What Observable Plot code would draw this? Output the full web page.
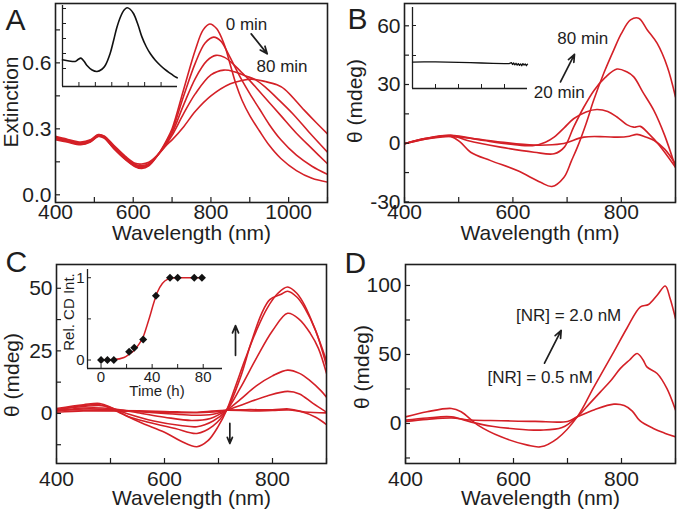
<!DOCTYPE html>
<html><head><meta charset="utf-8">
<script src="https://cdn.jsdelivr.net/npm/d3@7"></script>
<script src="https://cdn.jsdelivr.net/npm/@observablehq/plot@0.6"></script>
<style>
body{margin:0;background:#fff;}
#fig{position:relative;width:679px;height:512px;overflow:hidden;background:#fff;font-family:"Liberation Sans",Arial,sans-serif;color:#1e1e1e;}
.vt{position:absolute;white-space:nowrap;line-height:1;transform:translate(-50%,-50%) rotate(-90deg);}
</style></head><body><div id="fig"></div>
<script>
// ---------- Panel A : extinction spectra (0,20,40,60,80 min) ----------
const a00 = [[400,0.25],[430,0.24],[465,0.228],[490,0.24],[510,0.265],[525,0.258],[550,0.21],[580,0.16],[605,0.128],[622,0.12],[640,0.132],[665,0.185],[685,0.245],[700,0.30],[730,0.48],[760,0.66],[780,0.75],[797,0.777],[815,0.755],[835,0.68],[850,0.59],[865,0.50],[880,0.43],[900,0.36],[925,0.29],[950,0.225],[980,0.165],[1020,0.11],[1060,0.075],[1100,0.058]];
const a20 = [[400,0.255],[430,0.243],[465,0.23],[490,0.242],[510,0.267],[525,0.26],[550,0.212],[580,0.162],[605,0.13],[622,0.124],[640,0.135],[665,0.185],[685,0.24],[700,0.29],[730,0.45],[760,0.60],[785,0.69],[807,0.717],[825,0.70],[845,0.64],[865,0.57],[880,0.52],[900,0.46],[925,0.39],[950,0.32],[980,0.25],[1020,0.18],[1060,0.13],[1100,0.093]];
const a40 = [[400,0.26],[430,0.246],[465,0.232],[490,0.245],[510,0.27],[525,0.262],[550,0.215],[580,0.165],[605,0.133],[622,0.127],[640,0.138],[665,0.185],[685,0.235],[700,0.28],[730,0.41],[760,0.53],[790,0.61],[813,0.634],[835,0.625],[860,0.59],[880,0.555],[897,0.525],[920,0.48],[950,0.42],[980,0.36],[1020,0.28],[1060,0.21],[1100,0.141]];
const a60 = [[400,0.263],[430,0.25],[465,0.236],[490,0.248],[510,0.272],[525,0.265],[550,0.22],[580,0.17],[605,0.138],[622,0.133],[640,0.142],[665,0.185],[685,0.23],[700,0.27],[730,0.37],[760,0.46],[800,0.545],[833,0.567],[860,0.56],[890,0.54],[913,0.525],[940,0.49],[970,0.44],[1010,0.37],[1055,0.28],[1100,0.194]];
const a80 = [[400,0.266],[430,0.253],[465,0.24],[490,0.25],[510,0.274],[525,0.268],[550,0.225],[580,0.175],[605,0.143],[622,0.14],[640,0.148],[665,0.185],[685,0.225],[700,0.25],[730,0.31],[760,0.38],[800,0.45],[850,0.505],[880,0.52],[905,0.526],[940,0.515],[970,0.50],[990,0.48],[1040,0.385],[1070,0.33],[1100,0.277]];
const aInset = [[400,1.58],[440,1.5],[477,1.47],[495,1.6],[512,1.69],[530,1.5],[549,1.2],[580,0.9],[610,0.8],[640,0.95],[660,1.2],[690,2.0],[711,2.87],[730,3.7],[752,4.42],[775,4.9],[793,5.05],[812,4.95],[833,4.65],[860,3.9],[884,3.09],[910,2.45],[935,1.98],[965,1.55],[996,1.2],[1025,0.92],[1054,0.69],[1075,0.53],[1098,0.38]];

// ---------- Panel B : CD spectra (20,40,60,80 min) ----------
const b20 = [[400,-0.3],[440,2.2],[485,3.5],[530,2.2],[577,0.6],[639,-1.0],[690,-0.3],[731,3.1],[770,3.3],[793,3.1],[815,3.6],[829,4.5],[845,3.2],[860,1.5],[880,-3],[900,-10.6]];
const b40 = [[400,-0.3],[440,2.2],[485,4.0],[546,1.4],[600,-0.6],[639,-1.2],[660,0.5],[676,3.1],[695,8],[712,12.5],[735,16],[755,17.2],[775,16.2],[792,13.4],[810,9.5],[823,8.2],[835,8.6],[850,5],[870,-1],[900,-12.3]];
const b60 = [[400,-0.3],[440,2.5],[485,4.0],[516,1.4],[577,-2.0],[639,-4.6],[676,-5.4],[695,-2],[712,8.2],[730,18],[750,27.1],[770,33.5],[792,37.9],[810,36.5],[823,33.9],[840,26],[860,16.8],[880,4],[900,-12.3]];
const b80 = [[400,-0.3],[440,2.5],[485,3.5],[503,0.5],[522,-4.6],[559,-8.9],[608,-14],[651,-20],[672,-22.1],[694,-17.5],[708,-9],[719,-2],[735,10],[749,21.9],[768,36],[786,47.6],[800,56],[817,63],[832,63.9],[848,57.9],[866,51.1],[885,39],[900,23.6]];
const bInset = [[400,0.78],[450,0.79],[500,0.79],[550,0.78],[600,0.77],[650,0.76],[700,0.75],[750,0.74],[800,0.73],[820,0.73],[830,0.76],[835,0.70],[840,0.75],[845,0.69],[850,0.74],[855,0.68],[860,0.73],[865,0.67],[870,0.72],[875,0.66],[880,0.73],[885,0.68],[890,0.72],[895,0.66],[900,0.71]];

// ---------- Panel C : CD spectra over time ----------
const c1 = [[400,1.5],[450,1.3],[500,1.2],[600,0.8],[660,0.5],[715,1.3],[760,1.0],[800,1.2],[830,1.4],[860,0.6],[900,0.2]];
const c2 = [[400,0.5],[450,1],[500,1],[550,0.8],[620,0.3],[660,0.3],[700,0.8],[715,1.3],[750,1.5],[800,1.5],[830,1.8],[850,1],[880,-1.5],[900,-4.5]];
const c3 = [[400,1],[450,1.8],[500,1.6],[550,0.8],[600,0],[650,-0.7],[690,-0.3],[715,1.3],[750,4],[790,7],[828,8.8],[850,7.8],[875,4],[900,0.5]];
const c4 = [[400,1],[450,2.2],[500,2],[550,0.3],[600,-1.5],[650,-2.8],[685,-2],[715,1.3],[740,5.5],[770,11],[800,15],[828,17.3],[850,16],[870,13],[890,9],[900,6.5]];
const c5 = [[400,1.5],[450,2.8],[490,3],[530,0],[580,-3],[630,-4.8],[660,-5.3],[690,-3],[715,1.3],[740,10],[770,22],[800,33],[828,40],[850,37.5],[870,32],[885,26],[900,16]];
const c6 = [[400,1.5],[450,3.2],[480,3.5],[500,2],[530,-1],[570,-3.5],[620,-6],[660,-8],[690,-5],[715,1.3],[740,14],[760,28],[780,40],[795,45.5],[815,47.5],[828,48.8],[845,46.5],[860,42],[880,33],[900,19]];
const c7 = [[400,2],[450,3.5],[480,4],[500,2.5],[530,-1],[560,-4],[600,-7.5],[630,-11],[660,-13.3],[680,-11],[700,-5],[715,1.3],[730,10],[750,22],[770,33],[790,42],[810,48],[828,50.5],[845,48],[860,43],[880,33],[900,21]];
const cTime = [0,5,10,22,26,33,43,54,60,73,79];
const cRel  = [0,0,0,0.1,0.15,0.25,0.78,1,1,1,1];
const cFit = [[0,0],[10,0.005],[18,0.03],[22,0.07],[26,0.12],[30,0.2],[33,0.28],[36,0.42],[38,0.52],[41,0.68],[44,0.82],[48,0.93],[52,0.98],[58,1.0],[79,1.0]];

// ---------- Panel D : CD spectra vs [NR] ----------
const d05 = [[400,1.5],[440,3],[485,4],[520,2.5],[577,2],[640,1.5],[700,1.5],[718,4.8],[750,10],[786,14],[805,13],[820,9],[834,2],[859,-3.6],[880,-7],[900,-9.7]];
const d10 = [[400,2.4],[440,4],[485,4.8],[522,1],[560,-2],[600,-3.8],[650,-4.8],[690,-3],[718,4.8],[740,14],[761,22.9],[780,31],[798,39.9],[815,46],[829,50.7],[840,46],[847,41],[866,36.2],[884,25.4],[900,9.7]];
const d20 = [[400,4.8],[440,8.5],[485,10.9],[503,8.5],[534,-1.2],[577,-9.7],[626,-15.7],[650,-16.9],[681,-10.9],[718,4.8],[749,26.6],[786,52],[810,69],[835,84.5],[850,86.2],[866,92.9],[881,99.6],[890,90.6],[900,76.1]];

// ---------- tick values ----------
const wlTicksA = [400,500,600,700,800,900,1000,1100], wlLabelsA = [400,600,800,1000];
const wlTicks = [400,500,600,700,800,900], wlLabels = [400,600,800];
const yTicksA = [0,0.15,0.3,0.45,0.6,0.75], yLabelsA = [0,0.3,0.6];
const yTicksB = [-30,-15,0,15,30,45,60], yLabelsB = [-30,0,30,60];
const yTicksC = [-12.5,0,12.5,25,37.5,50], yLabelsC = [0,25,50];
const yTicksD = [-25,0,25,50,75,100], yLabelsD = [0,50,100];

const RED = "#d42027", INK = "#1e1e1e";
const FONT = "Liberation Sans, Arial, Helvetica, sans-serif";
const fig = document.getElementById("fig");

function rows(named){const out=[];for(const [k,pts] of Object.entries(named)) for(const [x,y] of pts) out.push({s:k,x,y});return out;}
function place(el,left,top){el.style.position="absolute";el.style.left=left+"px";el.style.top=top+"px";fig.appendChild(el);}
function vtitle(text,cx,cy,size){const d=document.createElement("div");d.className="vt";d.textContent=text;d.style.left=cx+"px";d.style.top=cy+"px";d.style.fontSize=size+"px";fig.appendChild(d);}
const style = {background:"transparent",overflow:"visible",fontFamily:FONT,color:INK};

function panel(o){
  const iw=o.w-o.ml-o.mr, ih=o.h-o.mt-o.mb;
  const marks=[
    Plot.line(rows(o.curves),{x:"x",y:"y",z:"s",stroke:RED,strokeWidth:1.6,curve:"catmull-rom",clip:true}),
    Plot.frame({stroke:INK,strokeWidth:1.6}),
    Plot.tickX(o.xTicks,{x:d=>d,insetTop:ih-5,stroke:INK,strokeWidth:1.2}),
    Plot.tickY(o.yTicks,{y:d=>d,insetRight:iw-5,stroke:INK,strokeWidth:1.2}),
    Plot.axisX(o.xLabels,{tickSize:0,tickPadding:o.xPad,tickFormat:d=>String(d),fontSize:21,label:null}),
    Plot.axisY(o.yLabels,{tickSize:0,tickPadding:4,tickFormat:o.yFmt,fontSize:21,label:null}),
    Plot.text(["Wavelength (nm)"],{text:d=>d,frameAnchor:"bottom",dy:o.xtDy,lineAnchor:"bottom",fontSize:21}),
    Plot.text([o.letter],{text:d=>d,frameAnchor:"top-left",dx:o.lDx,dy:o.lDy,lineAnchor:"bottom",textAnchor:"start",fontSize:30}),
    ...(o.extra||[])
  ];
  return Plot.plot({width:o.w,height:o.h,marginLeft:o.ml,marginRight:o.mr,marginTop:o.mt,marginBottom:o.mb,
    x:{domain:o.xd},y:{domain:o.yd},style,marks});
}
function note(items){return Plot.text(items,{x:"x",y:"y",text:"t",lineAnchor:"bottom",textAnchor:"middle",fontSize:17,fill:INK});}
function arrow(items){return Plot.arrow(items,{x1:"x1",y1:"y1",x2:"x2",y2:"y2",stroke:INK,strokeWidth:1.7,headLength:7,headAngle:45});}

// Panel A
place(panel({w:340,h:250,ml:55,mr:13,mt:3,mb:48,xd:[400,1100],yd:[-0.035,0.87],
  curves:{"0 min":a00,"20 min":a20,"40 min":a40,"60 min":a60,"80 min":a80},
  xTicks:wlTicksA,xLabels:wlLabelsA,yTicks:yTicksA,yLabels:yLabelsA,yFmt:d3.format(".1f"),xPad:2,
  xtDy:37.5,letter:"A",lDx:-50,lDy:26,
  extra:[note([{x:891.5,y:0.749,t:"0 min"},{x:983,y:0.558,t:"80 min"}]),arrow([{x1:903.6,y1:0.732,x2:944.8,y2:0.641}])]
}),0,0);
vtitle("Extinction",10,101.5,21);

// Panel B
place(panel({w:339,h:250,ml:64,mr:4,mt:3,mb:48,xd:[400,900],yd:[-30.3,71.4],
  curves:{"20 min":b20,"40 min":b40,"60 min":b60,"80 min":b80},
  xTicks:wlTicks,xLabels:wlLabels,yTicks:yTicksB,yLabels:yLabelsB,yFmt:d=>String(d),xPad:2,
  xtDy:37.5,letter:"B",lDx:-57,lDy:25,
  extra:[note([{x:729,y:50.7,t:"80 min"},{x:685.6,y:23,t:"20 min"}]),arrow([{x1:687.8,y1:31.3,x2:713.6,y2:45.4}])]
}),340,0);
vtitle("θ (mdeg)",354,100.5,21);

// Panel C
place(panel({w:340,h:262,ml:56,mr:14,mt:14,mb:49,xd:[400,900],yd:[-20,59.5],
  curves:{c1,c2,c3,c4,c5,c6,c7},
  xTicks:wlTicks,xLabels:wlLabels,yTicks:yTicksC,yLabels:yLabelsC,yFmt:d=>String(d),xPad:8,
  xtDy:41,letter:"C",lDx:-51,lDy:7,
  extra:[arrow([{x1:731.5,y1:23.2,x2:731.5,y2:35.1},{x1:721,y1:-4,x2:721,y2:-12}])]
}),0,250);
vtitle("θ (mdeg)",10.5,375,21);

// Panel D
place(panel({w:339,h:262,ml:65,mr:4,mt:14,mb:49,xd:[400,900],yd:[-29,115.2],
  curves:{"0.5 nM":d05,"1.0 nM":d10,"2.0 nM":d20},
  xTicks:wlTicks,xLabels:wlLabels,yTicks:yTicksD,yLabels:yLabelsD,yFmt:d=>String(d),xPad:8,
  xtDy:41,letter:"D",lDx:-61,lDy:8,
  extra:[note([{x:702,y:73.9,t:"[NR] = 2.0 nM"},{x:649.4,y:29.2,t:"[NR] = 0.5 nM"}]),arrow([{x1:657.4,y1:43.7,x2:688.3,y2:67.4}])]
}),340,250);
vtitle("θ (mdeg)",361,367,21);

// Insets
function inset(o){
  const iw=o.w-o.ml-o.mr, ih=o.h-o.mt-o.mb;
  const marks=[
    Plot.ruleX([o.xd[0]],{stroke:INK,strokeWidth:1.3}),
    Plot.ruleY([o.yd[0]],{stroke:INK,strokeWidth:1.3}),
    Plot.tickX(o.xTicks,{x:d=>d,insetTop:ih-4,stroke:INK,strokeWidth:1}),
    Plot.tickY(o.yTicks,{y:d=>d,insetRight:iw-4,stroke:INK,strokeWidth:1}),
    ...o.marks
  ];
  return Plot.plot({width:o.w,height:o.h,marginLeft:o.ml,marginRight:o.mr,marginTop:o.mt,marginBottom:o.mb,
    x:{domain:o.xd,axis:o.axes?undefined:null},y:{domain:o.yd,axis:o.axes?undefined:null},style,marks});
}
place(inset({w:130,h:90,ml:7,mr:8,mt:2,mb:7,xd:[400,1100],yd:[-0.2,5.2],
  xTicks:[500,600,700,800,900,1000],yTicks:[1,2,3,4,5],
  marks:[Plot.line(aInset,{x:d=>d[0],y:d=>d[1],stroke:"#111",strokeWidth:1.6,curve:"catmull-rom"})]}),55,3);
place(inset({w:130,h:90,ml:7,mr:8,mt:4,mb:5,xd:[400,900],yd:[-0.1,2.6],
  xTicks:[500,600,700,800],yTicks:[1,2],
  marks:[Plot.line(bInset,{x:d=>d[0],y:d=>d[1],stroke:"#111",strokeWidth:1.3})]}),405,3);
place(inset({w:170,h:140,ml:27,mr:8,mt:7,mb:34,xd:[-10.6,95.1],yd:[-0.103,1.1],axes:true,
  xTicks:[0,20,40,60,80],yTicks:[0,0.5,1],
  marks:[
    Plot.axisX([0,40,80],{tickSize:0,tickPadding:3,fontSize:15,label:null,tickFormat:d=>String(d)}),
    Plot.axisY([0,1],{tickSize:0,tickPadding:3,fontSize:15,label:null,tickFormat:d=>String(d)}),
    Plot.line(cFit,{x:d=>d[0],y:d=>d[1],stroke:RED,strokeWidth:1.5,curve:"monotone-x"}),
    Plot.dot(cTime,{x:d=>d,y:(d,i)=>cRel[i],symbol:"diamond2",r:3.6,fill:"#111",stroke:"none"}),
    Plot.text(["Time (h)"],{text:d=>d,frameAnchor:"bottom",dx:2,dy:27,lineAnchor:"bottom",fontSize:15})
  ]}),60,262);
vtitle("Rel. CD Int.",68,312,15);
</script></body></html>
